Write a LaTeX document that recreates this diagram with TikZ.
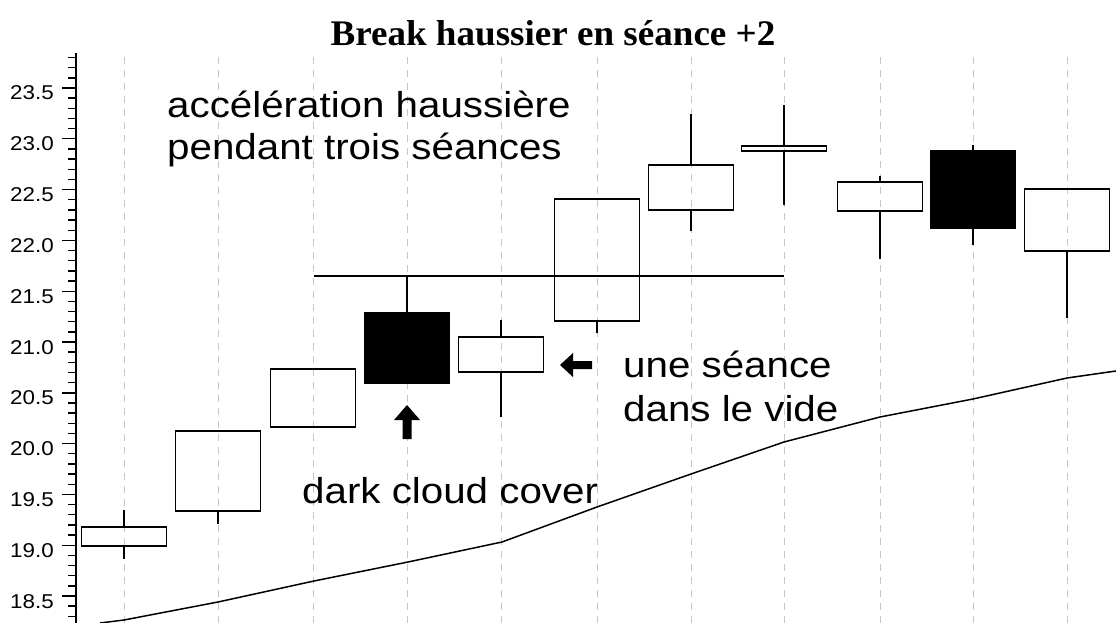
\documentclass[tikz,border=0pt]{standalone}
\usepackage{fontspec}
\setmainfont{Liberation Sans}[FakeStretch=1.12]
\newfontfamily\titlefont{Liberation Serif}[FakeStretch=1.03]

\tikzset{
  seance/.style={gray!45, dash pattern=on 7pt off 6pt, line width=1pt},
  body/.style={draw=black, line width=1.8pt},
  wick/.style={line width=1.6pt},
  note/.style={font=\fontsize{36}{42}\selectfont, inner sep=0pt, anchor=base west, align=left},
  price/.style={font=\fontsize{20}{24}\selectfont, inner sep=0pt, anchor=base east},
}

\begin{document}
\begin{tikzpicture}[x=1pt, y=-1pt]
\useasboundingbox (0,0) rectangle (1116,623);

% seances
\foreach \x in {124,218,313,407,501,597,691,784,880,973,1067}
  \draw[seance] (\x,57) -- (\x,623);

% axe des prix
\draw[line width=1.6pt] (76,53) -- (76,623);
\foreach \i in {3,...,58}
  \draw[line width=1.4pt] (68,{596-(\i-5)*10.16}) -- (76,{596-(\i-5)*10.16});
\foreach \p [count=\k from 0] in {18.5,19.0,19.5,20.0,20.5,21.0,21.5,22.0,22.5,23.0,23.5}{
  \draw[line width=1.4pt] (62,{596-\k*50.8}) -- (76,{596-\k*50.8});
  \node[price] (p\k) at (54,{608-\k*50.8}) {\p};
}

% bougies : x / haut du corps / bas du corps / plus haut / plus bas / remplissage
\foreach \x/\t/\b/\h/\l/\f in {124/527/546/510/559/none, 218/431/511/431/524/none,
    313/369/427/369/427/none, 407/313/383/276/383/black, 501/337/372/320/417/none,
    597/199/321/199/333/none, 691/165/210/114/231/none, 784/146/151/105/205/none,
    880/182/211/176/259/none, 973/151/228/145/245/black, 1067/189/251/189/318/none}{
  \draw[wick] (\x,\h) -- (\x,\t) (\x,\b) -- (\x,\l);
  \draw[body, fill=\f] (\x-42.5,\t) rectangle (\x+42.5,\b);
}

% resistance
\draw[line width=1.5pt] (314,276) -- (784,276);

% moyenne mobile
\draw[line width=1.5pt] (100,623) -- (124,620) -- (218,602) -- (314,581) -- (408,562)
  -- (502,542) -- (597,507) -- (691,474) -- (784,442) -- (880,417) -- (973,399)
  -- (1067,378) -- (1116,371);

% fleches
\fill (407,405) -- (420,420) -- (411.5,420) -- (411.5,439) -- (402.5,439)
  -- (402.5,420) -- (394,420) -- cycle;
\fill (560,365) -- (573,353) -- (573,361) -- (592,361) -- (592,369) -- (573,369)
  -- (573,377) -- cycle;

% base = ligne du bas
\node[note] (accel) at (167,159) {accélération haussière\\pendant trois séances};
\node[note] (vide) at (623,421) {une séance\\[2pt]dans le vide};
\node[note] (cloud) at (302,503) {dark cloud cover};

\node[font=\titlefont\bfseries\fontsize{36}{40}\selectfont, inner sep=0pt, anchor=base]
  (titre) at (553,46) {Break haussier en séance +2};
\end{tikzpicture}
\end{document}
